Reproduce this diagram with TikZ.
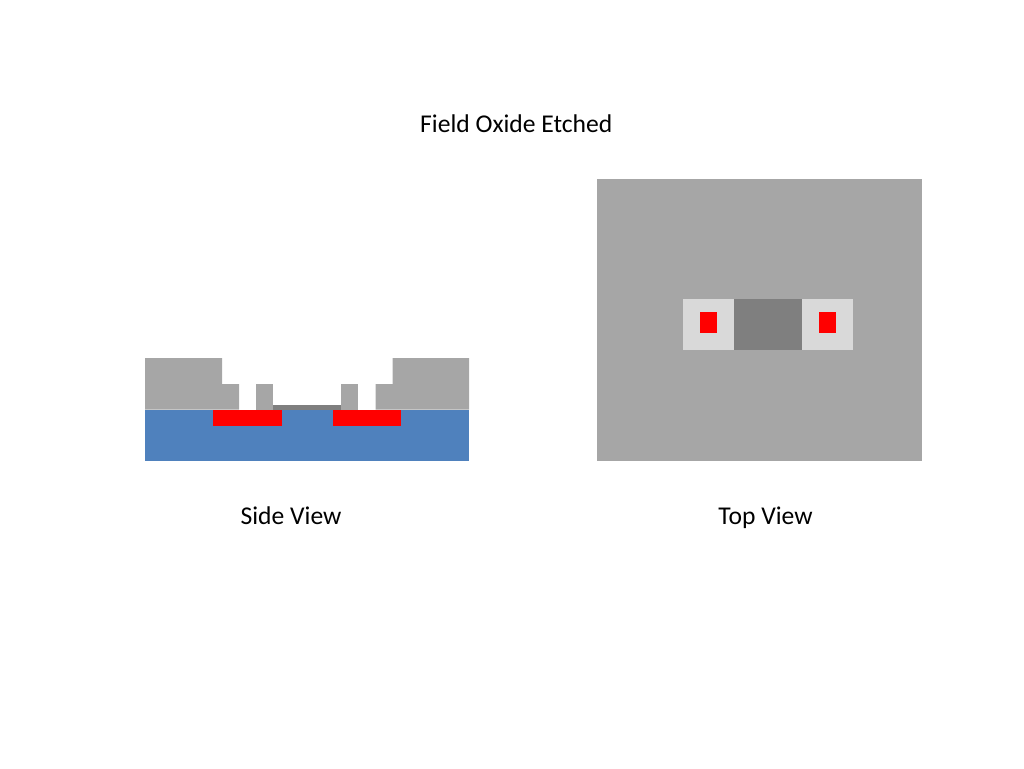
\documentclass[tikz,border=0pt]{standalone}
\usepackage{fontspec}
\setmainfont{Carlito}
\definecolor{oxide}{HTML}{A6A6A6}
\definecolor{silicon}{HTML}{4F81BD}
\definecolor{gateox}{HTML}{7F7F7F}
\definecolor{window}{HTML}{D9D9D9}
\tikzset{
  caption/.style={font=\fontsize{25.6}{30}\selectfont,text=black,inner sep=0pt,anchor=base},
}

\begin{document}
\begin{tikzpicture}[x=1pt,y=-1pt]
\useasboundingbox (0,0) rectangle (1024,768);

\node[caption] (title) at (516.3,132.4) {Field Oxide Etched};
\node[caption] (sidelabel) at (291,524.1) {Side View};
\node[caption] (toplabel) at (765.5,524.1) {Top View};

% side view
\fill[silicon] (145,409.5) rectangle (469,460.5);
\fill[oxide] (145,409.5)--(145,358)--(222,358)--(222,384)--(239,384)--(239,409.5)--cycle;
\fill[oxide] (256,409.5) rectangle (273,384);
\fill[oxide] (341,409.5) rectangle (358,384);
\fill[oxide] (469,409.5)--(469,358)--(392.5,358)--(392.5,384)--(375.5,384)--(375.5,409.5)--cycle;
\fill[gateox] (273,405) rectangle (341,409.5);
\fill[red] (213,409.5) rectangle (281.5,426);
\fill[red] (332.7,409.5) rectangle (401,426);

% top view
\fill[oxide] (597,179) rectangle (921.6,460.5);
\fill[window] (683,298.5) rectangle (733.5,350);
\fill[window] (802,298.5) rectangle (853,350);
\fill[gateox] (733.5,298.5) rectangle (802,350);
\fill[red] (699.5,312) rectangle (716.5,332.5);
\fill[red] (819,312) rectangle (836,332.5);
\end{tikzpicture}
\end{document}
